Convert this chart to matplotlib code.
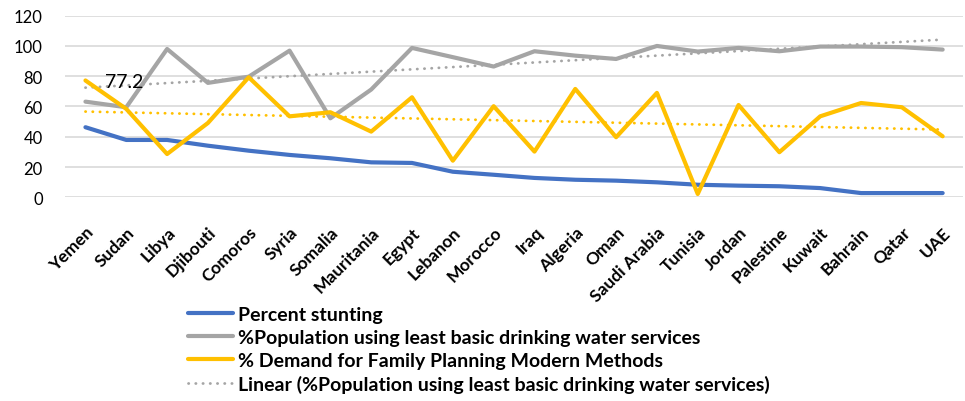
import numpy as np
import matplotlib
matplotlib.use("Agg")
import matplotlib.pyplot as plt

plt.rcParams['font.family'] = ['Lato', 'DejaVu Sans']

countries = ["Yemen", "Sudan", "Libya", "Djibouti", "Comoros", "Syria", "Somalia",
             "Mauritania", "Egypt", "Lebanon", "Morocco", "Iraq", "Algeria", "Oman",
             "Saudi Arabia", "Tunisia", "Jordan", "Palestine", "Kuwait", "Bahrain",
             "Qatar", "UAE"]
stunting = [46.3, 37.9, 37.9, 34.1, 30.8, 28.0, 25.8, 23.1, 22.7, 16.9, 14.9,
            12.8, 11.6, 11.0, 9.9, 8.3, 7.7, 7.3, 6.1, 2.8, 2.8, 2.8]
water = [63.2, 59.5, 98.0, 75.6, 79.7, 96.9, 52.2, 71.2, 98.7, 92.6, 86.4,
         96.5, 93.6, 91.4, 100.0, 96.3, 98.7, 96.5, 99.6, 99.6, 99.2, 97.6]
family_planning = [77.2, 58.4, 28.6, 49.1, 79.3, 53.5, 56.2, 43.4, 66.1, 24.2, 60.2,
                   30.2, 71.6, 39.7, 69.0, 2.2, 61.0, 29.8, 53.5, 62.3, 59.5, 40.3]

BLUE = '#4472C4'
GREY = '#A5A5A5'
GOLD = '#FFC000'

x = np.arange(len(countries))

fig = plt.figure(figsize=(9.65, 4.02), dpi=100)
ax = fig.add_axes([0.0674, 0.5067, 0.9306, 0.4518])

# linear trendlines (least squares, like Excel)
w_fit = np.polyval(np.polyfit(x, water, 1), x)
f_fit = np.polyval(np.polyfit(x, family_planning, 1), x)

l1, = ax.plot(x, stunting, color=BLUE, lw=3, solid_capstyle='round', zorder=3)
l2, = ax.plot(x, water, color=GREY, lw=3, solid_capstyle='round', zorder=3)
l3, = ax.plot(x, family_planning, color=GOLD, lw=3, solid_capstyle='round', zorder=4)
l4, = ax.plot(x, w_fit, color=GREY, lw=2, linestyle=(0, (0.1, 2.5)),
              dash_capstyle='round', zorder=2)
ax.plot(x, f_fit, color=GOLD, lw=2, linestyle=(0, (0.1, 2.5)),
        dash_capstyle='round', zorder=2)

ax.annotate(f"{family_planning[0]}", xy=(0, family_planning[0]), xytext=(14, -1),
            textcoords='offset points', ha='left', va='center', fontsize=14,
            color='black', zorder=5)

ax.set_xlim(-0.5, len(countries) - 0.5)
ax.set_ylim(0, 120)
ax.set_yticks(range(0, 121, 20))
ax.yaxis.grid(True, color='#D9D9D9', lw=1.2)
ax.set_axisbelow(True)
for s in ax.spines.values():
    s.set_visible(False)
ax.tick_params(axis='both', length=0)
ax.tick_params(axis='y', labelsize=12, pad=16)
ax.set_xticks(x)
ax.set_xticklabels(countries, rotation=45, ha='right', rotation_mode='anchor',
                   fontsize=12.5, fontweight='bold')
ax.tick_params(axis='x', pad=19)

leg = fig.legend([l1, l2, l3, l4],
                 ["Percent stunting",
                  "%Population using least basic drinking water services",
                  "% Demand for Family Planning Modern Methods",
                  "Linear (%Population using least basic drinking water services)"],
                 loc='upper left', bbox_to_anchor=(0.195, 1 - 307 / 402),
                 frameon=False, borderpad=0, borderaxespad=0, handlelength=2.3,
                 handletextpad=0.28, labelspacing=0.3,
                 prop={'size': 14, 'weight': 'bold'})

fig.savefig("out.png", dpi=100)
